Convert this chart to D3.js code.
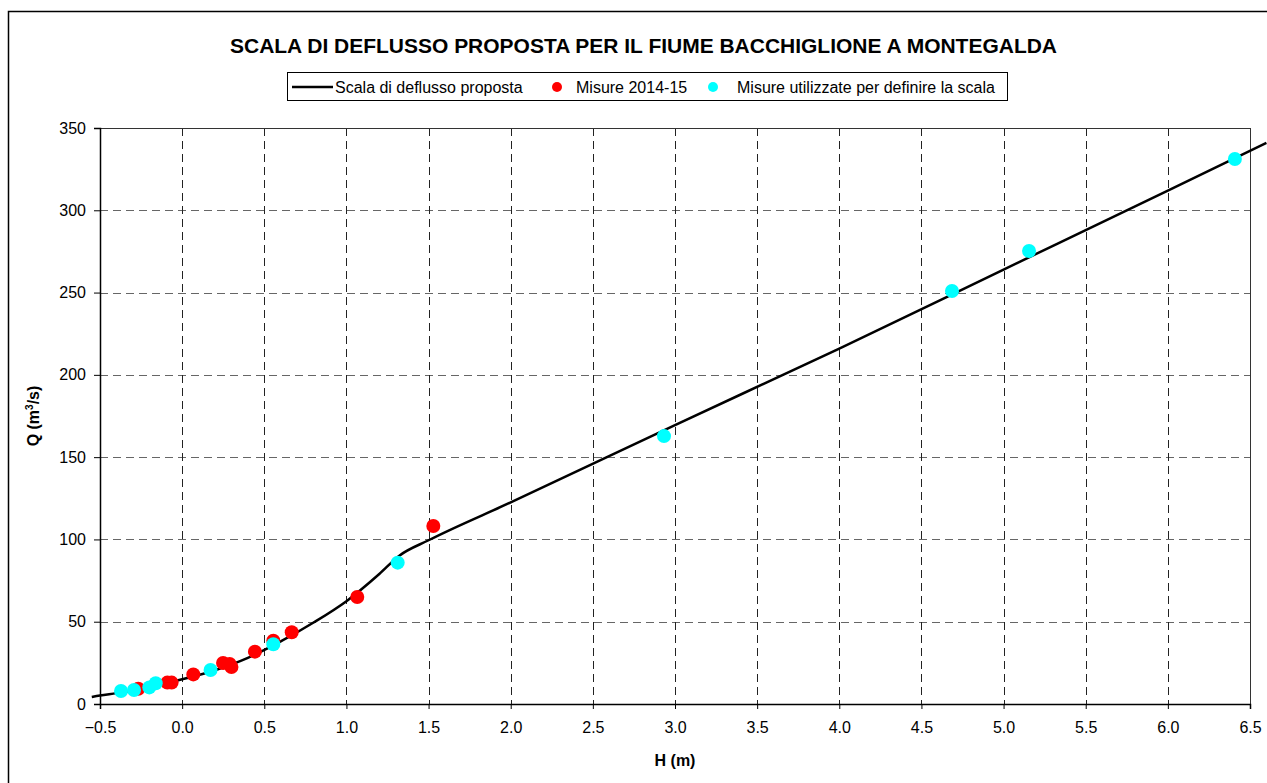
<!DOCTYPE html>
<html>
<head>
<meta charset="utf-8">
<script src="https://cdn.jsdelivr.net/npm/d3@7"></script>
<style>
  body { margin: 0; background: #fff; }
  svg { font-family: Arial, "Liberation Sans", sans-serif; }
</style>
</head>
<body>
<svg id="chart" width="1267" height="783"></svg>
<script>
// rating curve (H in m, Q in m3/s)
var curveH = [-0.55, -0.5, -0.4, -0.2, 0.0, 0.2, 0.4, 0.6, 0.8, 1.0, 1.2, 1.32, 1.5, 2.0, 3.0, 4.0, 5.0, 6.0, 6.6];
var curveQ = [4.3, 5.2, 6.6, 10.2, 15.0, 20.5, 28.0, 38.0, 49.5, 62.5, 79.0, 90.0, 99.5, 122.5, 169.5, 216.0, 264.0, 312.0, 341.0];

// measures 2014-15
var redH = [-0.267, -0.09, -0.064, 0.068, 0.249, 0.289, 0.30, 0.443, 0.555, 0.667, 1.066, 1.529];
var redQ = [9.3, 13.0, 13.0, 18.0, 24.9, 24.3, 22.5, 31.8, 38.5, 43.6, 65.0, 108.2];

// measures used to define the curve
var cyanH = [-0.372, -0.293, -0.2, -0.161, 0.173, 0.555, 1.312, 2.933, 4.686, 5.155, 6.408];
var cyanQ = [7.9, 8.5, 10.1, 12.6, 20.7, 36.3, 85.9, 162.8, 251.0, 275.3, 331.2];

var xTicks = d3.range(-0.5, 6.51, 0.5);
var yTicks = d3.range(0, 351, 50);

var svg = d3.select("#chart");
var margin = {left: 100, top: 128, right: 1250, bottom: 704};

var x = d3.scaleLinear().domain([-0.5, 6.5]).range([margin.left, margin.right]);
var y = d3.scaleLinear().domain([0, 350]).range([margin.bottom, margin.top]);

// outer frame
svg.append("rect")
  .attr("x", 8.5).attr("y", 11.5)
  .attr("width", 1300).attr("height", 800)
  .attr("fill", "none").attr("stroke", "#000").attr("stroke-width", 1.5);

svg.append("text")
  .attr("x", 230).attr("y", 53)
  .attr("font-size", 20).attr("font-weight", "bold")
  .attr("textLength", 827).attr("lengthAdjust", "spacingAndGlyphs")
  .text("SCALA DI DEFLUSSO PROPOSTA PER IL FIUME BACCHIGLIONE A MONTEGALDA");

// grid
svg.append("g").selectAll("line")
  .data(yTicks.slice(1, -1))
  .enter().append("line")
  .attr("x1", margin.left).attr("x2", margin.right)
  .attr("y1", d => Math.round(y(d)) + 0.5).attr("y2", d => Math.round(y(d)) + 0.5)
  .attr("stroke", "#666").attr("stroke-dasharray", "8,5");

svg.append("g").selectAll("line")
  .data(xTicks.slice(1, -1))
  .enter().append("line")
  .attr("x1", d => Math.round(x(d)) + 0.5).attr("x2", d => Math.round(x(d)) + 0.5)
  .attr("y1", margin.top).attr("y2", margin.bottom)
  .attr("stroke", "#222").attr("stroke-dasharray", "8,5");

// plot frame
svg.append("rect")
  .attr("x", margin.left + 0.5).attr("y", margin.top + 0.5)
  .attr("width", margin.right - margin.left).attr("height", margin.bottom - margin.top)
  .attr("fill", "none").attr("stroke", "#333").attr("stroke-width", 1);

// axes
var xAxis = svg.append("g")
  .attr("transform", "translate(0," + margin.bottom + ")")
  .call(d3.axisBottom(x).tickValues(xTicks).tickFormat(d3.format(".1f")).tickSize(5).tickPadding(13));
var yAxis = svg.append("g")
  .attr("transform", "translate(" + margin.left + ",0)")
  .call(d3.axisLeft(y).tickValues(yTicks).tickSize(6).tickPadding(8));

[xAxis, yAxis].forEach(function(a) {
  a.select(".domain").attr("stroke", "#000").attr("stroke-width", 1.5);
  a.selectAll(".tick line").attr("stroke", "#000");
  a.selectAll("text").attr("font-size", 16).attr("fill", "#000")
    .attr("font-family", "Arial, 'Liberation Sans', sans-serif");
});

svg.append("text")
  .attr("x", x(3)).attr("y", 766)
  .attr("text-anchor", "middle")
  .attr("font-size", 16).attr("font-weight", "bold")
  .text("H (m)");

var yl = svg.append("text")
  .attr("transform", "translate(39," + y(175) + ") rotate(-90)")
  .attr("text-anchor", "middle")
  .attr("font-size", 16).attr("font-weight", "bold");
yl.append("tspan").text("Q (m");
yl.append("tspan").attr("font-size", 10).attr("dy", -6).text("3");
yl.append("tspan").attr("dy", 6).text("/s)");

// rating curve
var line = d3.line().x(d => x(d[0])).y(d => y(d[1])).curve(d3.curveMonotoneX);
svg.append("path")
  .datum(d3.zip(curveH, curveQ))
  .attr("d", line)
  .attr("fill", "none").attr("stroke", "#000").attr("stroke-width", 2.5);

// points
svg.append("g").selectAll("circle")
  .data(d3.zip(redH, redQ))
  .enter().append("circle")
  .attr("cx", d => x(d[0])).attr("cy", d => y(d[1]))
  .attr("r", 7).attr("fill", "#ff0000");

svg.append("g").selectAll("circle")
  .data(d3.zip(cyanH, cyanQ))
  .enter().append("circle")
  .attr("cx", d => x(d[0])).attr("cy", d => y(d[1]))
  .attr("r", 7).attr("fill", "#00ffff");

// legend
var lg = svg.append("g");
lg.append("rect")
  .attr("x", 287.5).attr("y", 72.5).attr("width", 720).attr("height", 28)
  .attr("fill", "#fff").attr("stroke", "#000");
lg.append("line")
  .attr("x1", 292).attr("x2", 333).attr("y1", 87).attr("y2", 87)
  .attr("stroke", "#000").attr("stroke-width", 2.5);
lg.append("text").attr("x", 335).attr("y", 92.5).attr("font-size", 16)
  .text("Scala di deflusso proposta");
lg.append("circle").attr("cx", 557).attr("cy", 87).attr("r", 5).attr("fill", "#ff0000");
lg.append("text").attr("x", 576).attr("y", 92.5).attr("font-size", 16)
  .text("Misure 2014-15");
lg.append("circle").attr("cx", 713).attr("cy", 87).attr("r", 5).attr("fill", "#00ffff");
lg.append("text").attr("x", 737).attr("y", 92.5).attr("font-size", 16)
  .text("Misure utilizzate per definire la scala");
</script>
</body>
</html>
